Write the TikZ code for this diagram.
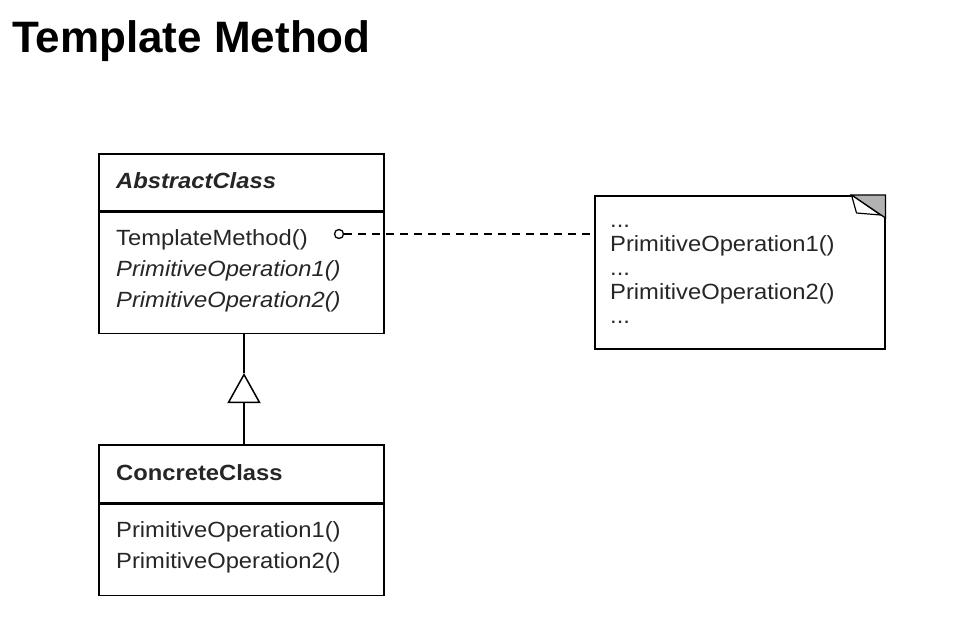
\documentclass[tikz,border=0pt]{standalone}
\usepackage{fontspec}
\setmainfont{Liberation Sans}
\newfontfamily\umlfont[FakeStretch=1.08]{Liberation Sans}
\usetikzlibrary{arrows.meta,calc}
\newcommand\notedots{...}

\begin{document}
\begin{tikzpicture}[x=1pt, y=-1pt,
  classbox/.style={draw, line width=1.5pt, minimum width=285pt, anchor=north west, inner sep=0pt},
  umltext/.style={font=\umlfont\fontsize{22}{26}\selectfont, text=black!85, anchor=base west, inner sep=0pt}]
\fill[white] (0,0) rectangle (966,623);
\useasboundingbox (0,0) rectangle (966,623);
\node (title) at (12,53) [anchor=base west, inner sep=0pt, font=\bfseries\fontsize{44}{50}\selectfont] {Template Method};

% AbstractClass
\node (absname) at (98,153) [classbox, minimum height=57pt] {};
\node (absops) at (absname.south west) [classbox, minimum height=121pt] {};
\node (abstitle) at (116,188) [umltext, font=\umlfont\bfseries\itshape\fontsize{22}{26}\selectfont] {AbstractClass};
\node (tmpl) at (116,245) [umltext] {TemplateMethod()};
\node (absop1) at (116,276) [umltext, font=\umlfont\itshape\fontsize{22}{26}\selectfont] {PrimitiveOperation1()};
\node (absop2) at (116,307) [umltext, font=\umlfont\itshape\fontsize{22}{26}\selectfont] {PrimitiveOperation2()};

% ConcreteClass
\node (conname) at (98,444) [classbox, minimum height=58pt] {};
\node (conops) at (conname.south west) [classbox, minimum height=91pt] {};
\node (contitle) at (116,480) [umltext, font=\umlfont\bfseries\fontsize{22}{26}\selectfont] {ConcreteClass};
\node (conop1) at (116,537) [umltext] {PrimitiveOperation1()};
\node (conop2) at (116,568) [umltext] {PrimitiveOperation2()};

% note
\node (note) at (594,195) [draw, line width=1.5pt, anchor=north west, minimum width=290pt, minimum height=153pt, inner sep=0pt] {};
\filldraw[fill=gray!60, line width=1.2pt] ($(note.north east)+(-34,0)$) -- (note.north east) -- ($(note.north east)+(0,23)$) -- cycle;
\draw[fill=white, line width=1.2pt, line join=round] ($(note.north east)+(-34,0)$) -- ($(note.north east)+(-29,18)$) -- ($(note.north east)+(-5,20)$) -- cycle;
\foreach \txt [count=\i] in {\notedots, PrimitiveOperation1(), \notedots, PrimitiveOperation2(), \notedots}
  \node (note\i) at (610,203+24*\i) [umltext] {\txt};

% connectors
\node (hook) at (339,234) [circle, draw, line width=1.3pt, minimum size=9pt, inner sep=0pt] {};
\draw[line width=1.3pt, dash pattern=on 8pt off 6pt] (hook.east) -- (hook -| note.west);
\coordinate (apex) at (244,373);
\draw[line width=1.5pt] (absops.south -| apex) -- (apex);
\draw[line width=1.5pt, -{Triangle[open, length=30pt, width=33pt, line width=1.5pt]}] (conname.north -| apex) -- (apex);
\end{tikzpicture}
\end{document}
